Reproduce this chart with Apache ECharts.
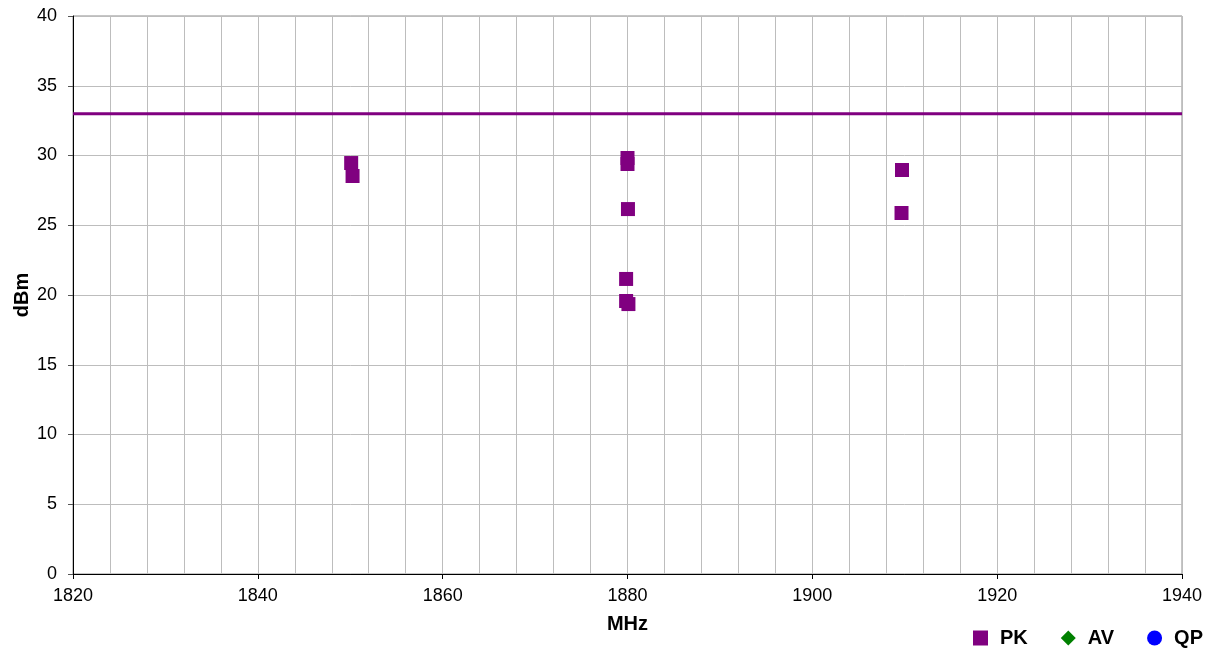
<!DOCTYPE html>
<html>
<head>
<meta charset="utf-8">
<script src="https://cdn.jsdelivr.net/npm/echarts@6/dist/echarts.min.js"></script>
<style>
html,body{margin:0;padding:0;background:#fff;}
#chart{width:1206px;height:648px;}
</style>
</head>
<body>
<div id="chart"></div>
<script>
// Data
const pkFreq  = [1850.1, 1850.25, 1880.0, 1880.0, 1880.05, 1879.85, 1879.85, 1880.1, 1909.7, 1909.65];
const pkLevel = [29.46, 28.53, 29.82, 29.39, 26.16, 21.15, 19.57, 19.35, 28.96, 25.88];
const avFreq = [];
const avLevel = [];
const qpFreq = [];
const qpLevel = [];
const limitFreq = [1820, 1940];
const limitLevel = [33, 33];
const seriesNames = ['PK', 'AV', 'QP'];

const zip = (a, b) => a.map((v, i) => [v, b[i]]);

const chart = echarts.init(document.getElementById('chart'), null, {renderer: 'canvas'});
const fontFamily = '"Liberation Sans", Arial, sans-serif';

chart.setOption({
  animation: false,
  backgroundColor: '#ffffff',
  textStyle: {fontFamily: fontFamily},
  grid: {left: 73, right: 24, top: 16, bottom: 74, show: true, borderColor: '#8c8c8c', borderWidth: 1,
         containLabel: false, outerBoundsMode: 'none'},
  xAxis: {
    type: 'value', min: 1820, max: 1940, interval: 20,
    name: 'MHz', nameLocation: 'middle', nameGap: 40, nameMoveOverlap: false,
    nameTextStyle: {fontSize: 20, fontWeight: 'bold', color: '#000', fontFamily: fontFamily},
    axisLine: {show: true, onZero: false, lineStyle: {color: '#000', width: 1}},
    axisTick: {show: true, inside: false, length: 5, lineStyle: {color: '#000'}},
    axisLabel: {fontSize: 18, color: '#000', margin: 13, fontFamily: fontFamily, formatter: v => String(v)},
    splitLine: {show: true, lineStyle: {color: '#bdbdbd', width: 1}},
    minorTick: {show: false, splitNumber: 5},
    minorSplitLine: {show: true, lineStyle: {color: '#bdbdbd', width: 1}}
  },
  yAxis: {
    type: 'value', min: 0, max: 40, interval: 5,
    name: 'dBm', nameLocation: 'middle', nameGap: 41, nameRotate: 90, nameMoveOverlap: false,
    nameTextStyle: {fontSize: 20, fontWeight: 'bold', color: '#000', fontFamily: fontFamily},
    axisLine: {show: true, onZero: false, lineStyle: {color: '#000', width: 1}},
    axisTick: {show: true, inside: false, length: 5, lineStyle: {color: '#555'}},
    axisLabel: {fontSize: 18, color: '#000', margin: 16, fontFamily: fontFamily, formatter: v => String(v)},
    splitLine: {show: true, lineStyle: {color: '#bdbdbd', width: 1}}
  },
  legend: {
    data: seriesNames,
    left: 973, top: 628, width: 400, padding: 0,
    itemWidth: 15, itemHeight: 15, itemGap: 33,
    textStyle: {fontSize: 20, fontWeight: 'bold', color: '#000', fontFamily: fontFamily, padding: [0, 0, 0, 7]}
  },
  series: [
    {
      name: 'Limit', type: 'line', data: zip(limitFreq, limitLevel),
      showSymbol: false, symbol: 'none', silent: true,
      lineStyle: {color: '#800080', width: 3}, z: 3
    },
    {
      name: 'PK', type: 'scatter', data: zip(pkFreq, pkLevel),
      symbol: 'rect', symbolSize: 14, itemStyle: {color: '#800080', opacity: 1}, z: 4
    },
    {
      name: 'AV', type: 'scatter', data: zip(avFreq, avLevel),
      symbol: 'diamond', symbolSize: 14, itemStyle: {color: '#008000', opacity: 1}
    },
    {
      name: 'QP', type: 'scatter', data: zip(qpFreq, qpLevel),
      symbol: 'circle', symbolSize: 14, itemStyle: {color: '#0000ff', opacity: 1}
    }
  ]
});
</script>
</body>
</html>
